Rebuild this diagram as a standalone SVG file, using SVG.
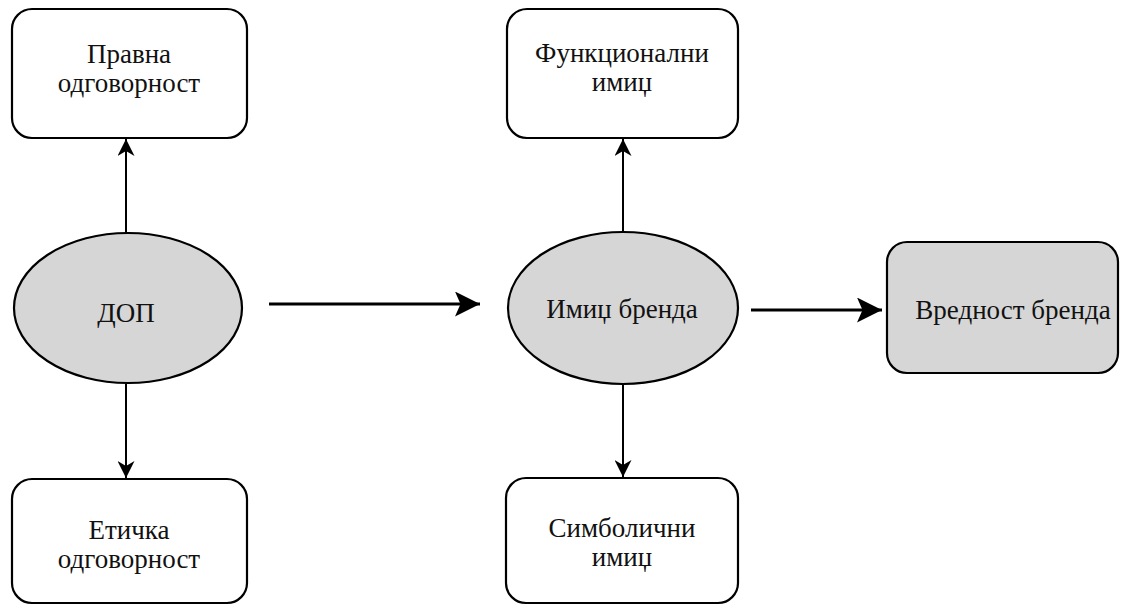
<svg xmlns="http://www.w3.org/2000/svg" width="1121" height="607" viewBox="0 0 1121 607">
  <defs>
    <marker id="tipSmall" viewBox="0 0 10 10" refX="10" refY="5" markerWidth="17" markerHeight="17" markerUnits="userSpaceOnUse" orient="auto">
      <path d="M0,0 L10,5 L0,10 L3,5 Z" fill="#000"/>
    </marker>
    <marker id="tipBig" viewBox="0 0 10 10" refX="10" refY="5" markerWidth="38" markerHeight="25" markerUnits="userSpaceOnUse" orient="auto">
      <path d="M0,0 L10,5 L0,10 L2.2,5 Z" fill="#000"/>
    </marker>
  </defs>
  <style>
    .box { fill: #ffffff; stroke: #000; stroke-width: 2.2; }
    .shade { fill: #d6d6d6; stroke: #000; stroke-width: 2.2; }
    .lbl { font-family: "Liberation Serif", "Times New Roman", serif; font-size: 27px; fill: #111; text-anchor: middle; }
    .thin { stroke: #000; stroke-width: 2; fill: none; marker-end: url(#tipSmall); }
    .thick { stroke: #000; stroke-width: 3.2; fill: none; marker-end: url(#tipBig); }
  </style>

  <g id="connectors">
    <line class="thin" x1="126" y1="233" x2="126" y2="139"/>
    <line class="thin" x1="126" y1="384" x2="126" y2="478"/>
    <line class="thick" x1="269" y1="304" x2="480" y2="304"/>
    <line class="thin" x1="623" y1="232" x2="623" y2="139"/>
    <line class="thin" x1="623" y1="385" x2="623" y2="477"/>
    <line class="thick" x1="751" y1="310" x2="882" y2="310"/>
  </g>

  <g id="pravna">
    <rect class="box" x="12" y="9" width="235" height="129" rx="20"/>
    <text class="lbl" x="129" y="63">Правна</text>
    <text class="lbl" x="129" y="92">одговорност</text>
  </g>

  <g id="dop">
    <ellipse class="shade" cx="128" cy="308" rx="114" ry="75"/>
    <text class="lbl" x="126" y="322">ДОП</text>
  </g>

  <g id="eticka">
    <rect class="box" x="12" y="479" width="235" height="124" rx="20"/>
    <text class="lbl" x="129" y="539">Етичка</text>
    <text class="lbl" x="129" y="568">одговорност</text>
  </g>

  <g id="funkcionalni">
    <rect class="box" x="507" y="9" width="231" height="129" rx="20"/>
    <text class="lbl" x="622" y="62">Функционални</text>
    <text class="lbl" x="622" y="91">имиџ</text>
  </g>

  <g id="imidz">
    <ellipse class="shade" cx="623" cy="308" rx="115" ry="76"/>
    <text class="lbl" x="622" y="318">Имиџ бренда</text>
  </g>

  <g id="simbolicni">
    <rect class="box" x="506" y="478" width="232" height="125" rx="20"/>
    <text class="lbl" x="622" y="537">Симболични</text>
    <text class="lbl" x="622" y="566">имиџ</text>
  </g>

  <g id="vrednost">
    <rect class="shade" x="887" y="242" width="231" height="131" rx="20"/>
    <text class="lbl" x="1013" y="319">Вредност бренда</text>
  </g>
</svg>
